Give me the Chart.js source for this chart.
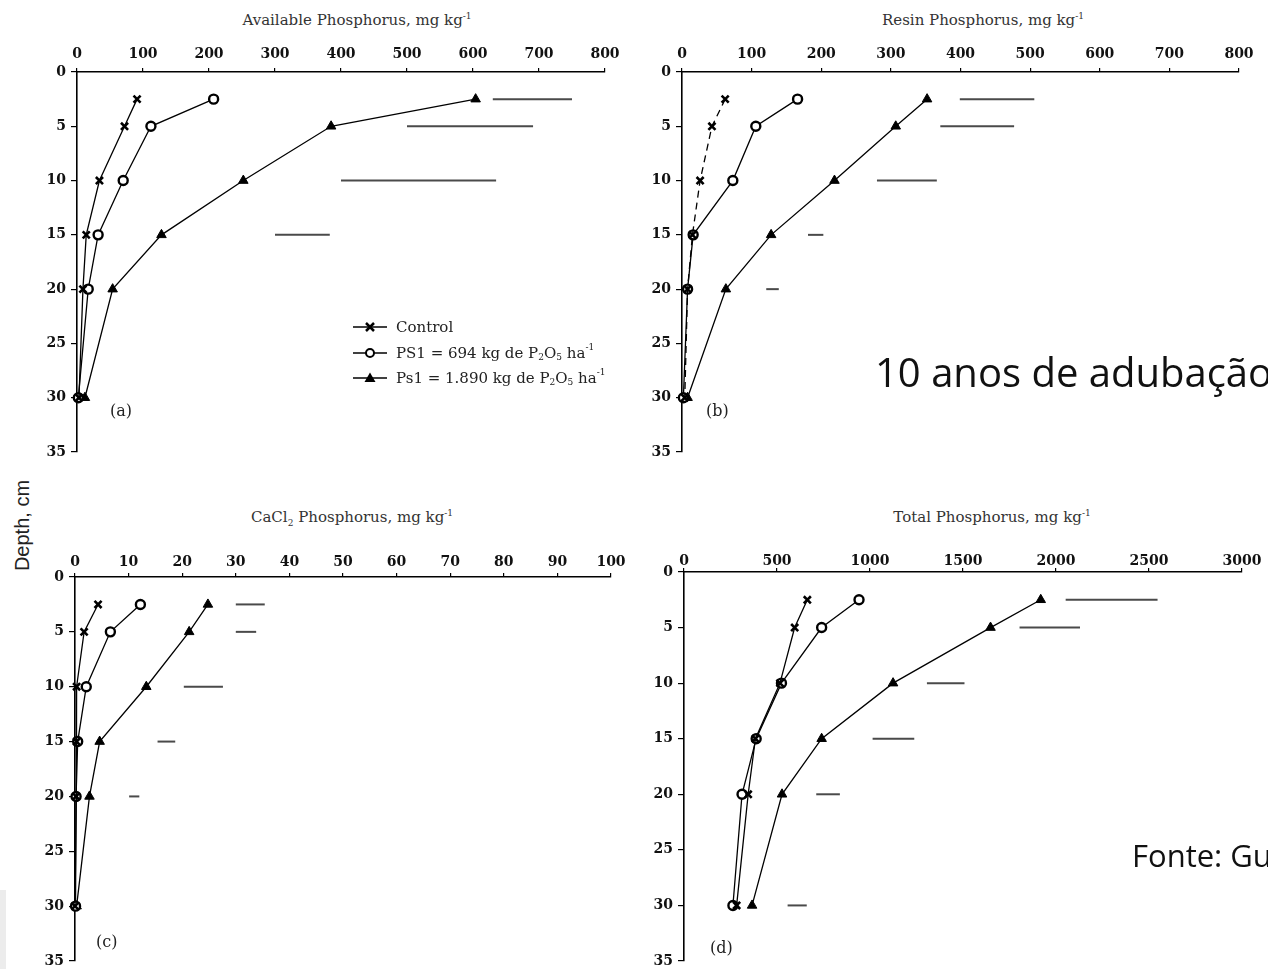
<!DOCTYPE html>
<html lang="pt">
<head>
<meta charset="UTF-8">
<title>Fósforo no perfil do solo</title>
<script src="https://cdn.jsdelivr.net/npm/chart.js@4"></script>
<style>
  * { box-sizing: border-box; margin: 0; padding: 0; }
  body { width: 1268px; height: 969px; background: #fff; position: relative; overflow: hidden; font-family: 'DejaVu Serif', serif; }
  canvas { position: absolute; }
  .title { position: absolute; font-size: 15px; color: #333; white-space: nowrap; transform: translate(-50%, -50%); }
  .title sup, .legend sup { font-size: 9px; position: relative; top: -6px; vertical-align: baseline; }
  .title sub, .legend sub { font-size: 9px; position: relative; top: 4px; vertical-align: baseline; }
  .tag { position: absolute; font-size: 16px; color: #222; transform: translateY(-50%); }
  .legend { position: absolute; font-size: 15px; color: #222; white-space: nowrap; display: flex; align-items: center; transform: translateY(-50%); }
  .legend svg { margin-right: 9px; }
  .depth { position: absolute; left: -38px; top: 514px; width: 120px; text-align: center; font: 20px 'Liberation Sans', Arial, sans-serif; color: #222; transform: rotate(-90deg); }
  .note { position: absolute; font-family: 'Open Sans', sans-serif; color: #111; white-space: nowrap; }
  .strip { position: absolute; left: 0; top: 890px; width: 6px; height: 79px; background: #ececec; }
</style>
</head>
<body>

<div class="title" style="left:357px; top:20px">Available Phosphorus, mg kg<sup>-1</sup></div>
<div class="title" style="left:983px; top:20px">Resin Phosphorus, mg kg<sup>-1</sup></div>
<div class="title" style="left:352px; top:517px">CaCl<sub>2</sub> Phosphorus, mg kg<sup>-1</sup></div>
<div class="title" style="left:992px; top:517px">Total Phosphorus, mg kg<sup>-1</sup></div>

<div class="depth">Depth, cm</div>

<canvas id="chartA"></canvas>
<canvas id="chartB"></canvas>
<canvas id="chartC"></canvas>
<canvas id="chartD"></canvas>

<div class="tag" style="left:110px; top:410px">(a)</div>
<div class="tag" style="left:706px; top:410px">(b)</div>
<div class="tag" style="left:96px; top:941px">(c)</div>
<div class="tag" style="left:710px; top:947px">(d)</div>

<div class="legend" style="left:353px; top:327px">
  <svg width="34" height="14"><line x1="0" y1="7" x2="34" y2="7" stroke="#000" stroke-width="1.5"/><path d="M13 3 L21 11 M21 3 L13 11" stroke="#000" stroke-width="2.5"/></svg>Control
</div>
<div class="legend" style="left:353px; top:353px">
  <svg width="34" height="14"><line x1="0" y1="7" x2="34" y2="7" stroke="#000" stroke-width="1.5"/><circle cx="17" cy="7" r="4" fill="#fff" stroke="#000" stroke-width="2"/></svg>PS1 = 694 kg de P<sub>2</sub>O<sub>5</sub>&nbsp;ha<sup>-1</sup>
</div>
<div class="legend" style="left:353px; top:378px">
  <svg width="34" height="14"><line x1="0" y1="7" x2="34" y2="7" stroke="#000" stroke-width="1.5"/><polygon points="17,1.5 22.5,11 11.5,11" fill="#000"/></svg>Ps1 = 1.890 kg de P<sub>2</sub>O<sub>5</sub>&nbsp;ha<sup>-1</sup>
</div>

<div class="note" style="left:875px; top:352px; font-size:40px; line-height:1">10 anos de adubação</div>
<div class="note" style="left:1132px; top:840px; font-size:31px; line-height:1">Fonte: Gu</div>
<div class="strip"></div>

<script>
// profundidades amostradas (cm)
const depths = [2.5, 5, 10, 15, 20, 30];

// (a) fósforo disponível
const controlA = [91, 72, 34, 14, 9, 3];
const ps1A = [207, 112, 70, 32, 17, 2];
const ps2A = [604, 385, 252, 128, 54, 12];
const lsdDepthA = [2.5, 5, 10, 15];
const lsdFromA = [630, 500, 400, 300];
const lsdToA = [750, 691, 635, 383];

// (b) fósforo resina
const controlB = [62, 43, 26, 15, 8, 4];
const ps1B = [166, 106, 73, 16, 8, 2];
const ps2B = [352, 307, 219, 128, 63, 8];
const lsdDepthB = [2.5, 5, 10, 15, 20];
const lsdFromB = [399, 371, 280, 181, 121];
const lsdToB = [506, 477, 366, 203, 139];

// (c) fósforo em CaCl2
const controlC = [4.3, 1.7, 0.3, 0.3, 0.2, 0];
const ps1C = [12.2, 6.6, 2.1, 0.5, 0.2, 0.1];
const ps2C = [24.8, 21.3, 13.3, 4.6, 2.7, 0.3];
const lsdDepthC = [2.5, 5, 10, 15, 20];
const lsdFromC = [30, 30, 20.3, 15.4, 10.1];
const lsdToC = [35.4, 33.8, 27.6, 18.7, 12];

// (d) fósforo total
const controlD = [663, 595, 516, 384, 345, 283];
const ps1D = [941, 740, 524, 388, 312, 263];
const ps2D = [1918, 1648, 1124, 740, 527, 366];
const lsdDepthD = [2.5, 5, 10, 15, 20, 30];
const lsdFromD = [2052, 1804, 1306, 1014, 711, 557];
const lsdToD = [2546, 2129, 1508, 1238, 838, 660];

const depthTicks = [0, 5, 10, 15, 20, 25, 30, 35];

const tickFont = { family: 'DejaVu Serif', weight: 'bold', size: 14 };
const LEFT_W = 44, TOP_H = 34, PAD_R = 24, PAD_B = 14;

function points(values) {
  return depths.map((d, i) => ({ x: values[i], y: d }));
}

function buildPanel(cfg) {
  const canvas = document.getElementById(cfg.id);
  const w = cfg.area.right - cfg.area.left;
  const h = cfg.area.bottom - cfg.area.top;
  canvas.width = LEFT_W + w + PAD_R;
  canvas.height = TOP_H + h + PAD_B;
  canvas.style.left = (cfg.area.left - LEFT_W) + 'px';
  canvas.style.top = (cfg.area.top - TOP_H) + 'px';

  // barras de DMS por profundidade
  const lsd = cfg.lsdDepth.map((d, i) => ({
    data: [{ x: cfg.lsdFrom[i], y: d }, { x: cfg.lsdTo[i], y: d }],
    showLine: true,
    borderColor: '#4a4a4a',
    borderWidth: 2,
    pointRadius: 0
  }));

  const line = { showLine: true, borderColor: '#000', borderWidth: 1.3, clip: false };

  new Chart(canvas, {
    type: 'scatter',
    data: {
      datasets: [
        ...lsd,
        { ...line, data: points(cfg.control), borderDash: cfg.dashed ? [7, 5] : [],
          pointStyle: 'crossRot', pointRadius: 5, pointBorderWidth: 2.6,
          pointBorderColor: '#000', pointBackgroundColor: '#000' },
        { ...line, data: points(cfg.ps1), pointStyle: 'circle', pointRadius: 4.5,
          pointBorderWidth: 2.4, pointBorderColor: '#000', pointBackgroundColor: '#fff' },
        { ...line, data: points(cfg.ps2), pointStyle: 'triangle', pointRadius: 5.5,
          pointBorderWidth: 1, pointBorderColor: '#000', pointBackgroundColor: '#000' }
      ]
    },
    options: {
      responsive: false,
      animation: false,
      layout: { padding: { right: PAD_R, bottom: PAD_B } },
      plugins: { legend: { display: false }, tooltip: { enabled: false } },
      scales: {
        x: {
          type: 'linear', position: 'top', min: 0, max: cfg.xMax,
          ticks: { stepSize: cfg.xStep, font: tickFont, color: '#111', padding: cfg.xPad,
            maxRotation: 0, autoSkip: false, callback: v => String(v) },
          grid: { drawOnChartArea: false, drawTicks: true, tickLength: 4, color: '#000', lineWidth: 1.2 },
          border: { display: true, color: '#000', width: 1.6 },
          afterFit: s => { s.height = TOP_H; }
        },
        y: {
          type: 'linear', reverse: true, min: 0, max: 35,
          afterBuildTicks: s => { s.ticks = depthTicks.map(v => ({ value: v })); },
          ticks: { font: tickFont, color: '#111', padding: 5, callback: v => String(v) },
          grid: { drawOnChartArea: false, drawTicks: true, tickLength: 6, color: '#000', lineWidth: 1.2 },
          border: { display: true, color: '#000', width: 1.6 },
          afterFit: s => { s.width = LEFT_W; }
        }
      }
    }
  });
}

buildPanel({ id: 'chartA', area: { left: 77, top: 72, right: 605, bottom: 452 }, xMax: 800, xStep: 100, xPad: 5,
  control: controlA, ps1: ps1A, ps2: ps2A, lsdDepth: lsdDepthA, lsdFrom: lsdFromA, lsdTo: lsdToA });
buildPanel({ id: 'chartB', area: { left: 682, top: 72, right: 1239, bottom: 452 }, xMax: 800, xStep: 100, xPad: 5,
  control: controlB, ps1: ps1B, ps2: ps2B, lsdDepth: lsdDepthB, lsdFrom: lsdFromB, lsdTo: lsdToB, dashed: true });
buildPanel({ id: 'chartC', area: { left: 75, top: 577, right: 611, bottom: 961 }, xMax: 100, xStep: 10, xPad: 2,
  control: controlC, ps1: ps1C, ps2: ps2C, lsdDepth: lsdDepthC, lsdFrom: lsdFromC, lsdTo: lsdToC });
buildPanel({ id: 'chartD', area: { left: 684, top: 572, right: 1242, bottom: 961 }, xMax: 3000, xStep: 500, xPad: -2,
  control: controlD, ps1: ps1D, ps2: ps2D, lsdDepth: lsdDepthD, lsdFrom: lsdFromD, lsdTo: lsdToD });
</script>
</body>
</html>
